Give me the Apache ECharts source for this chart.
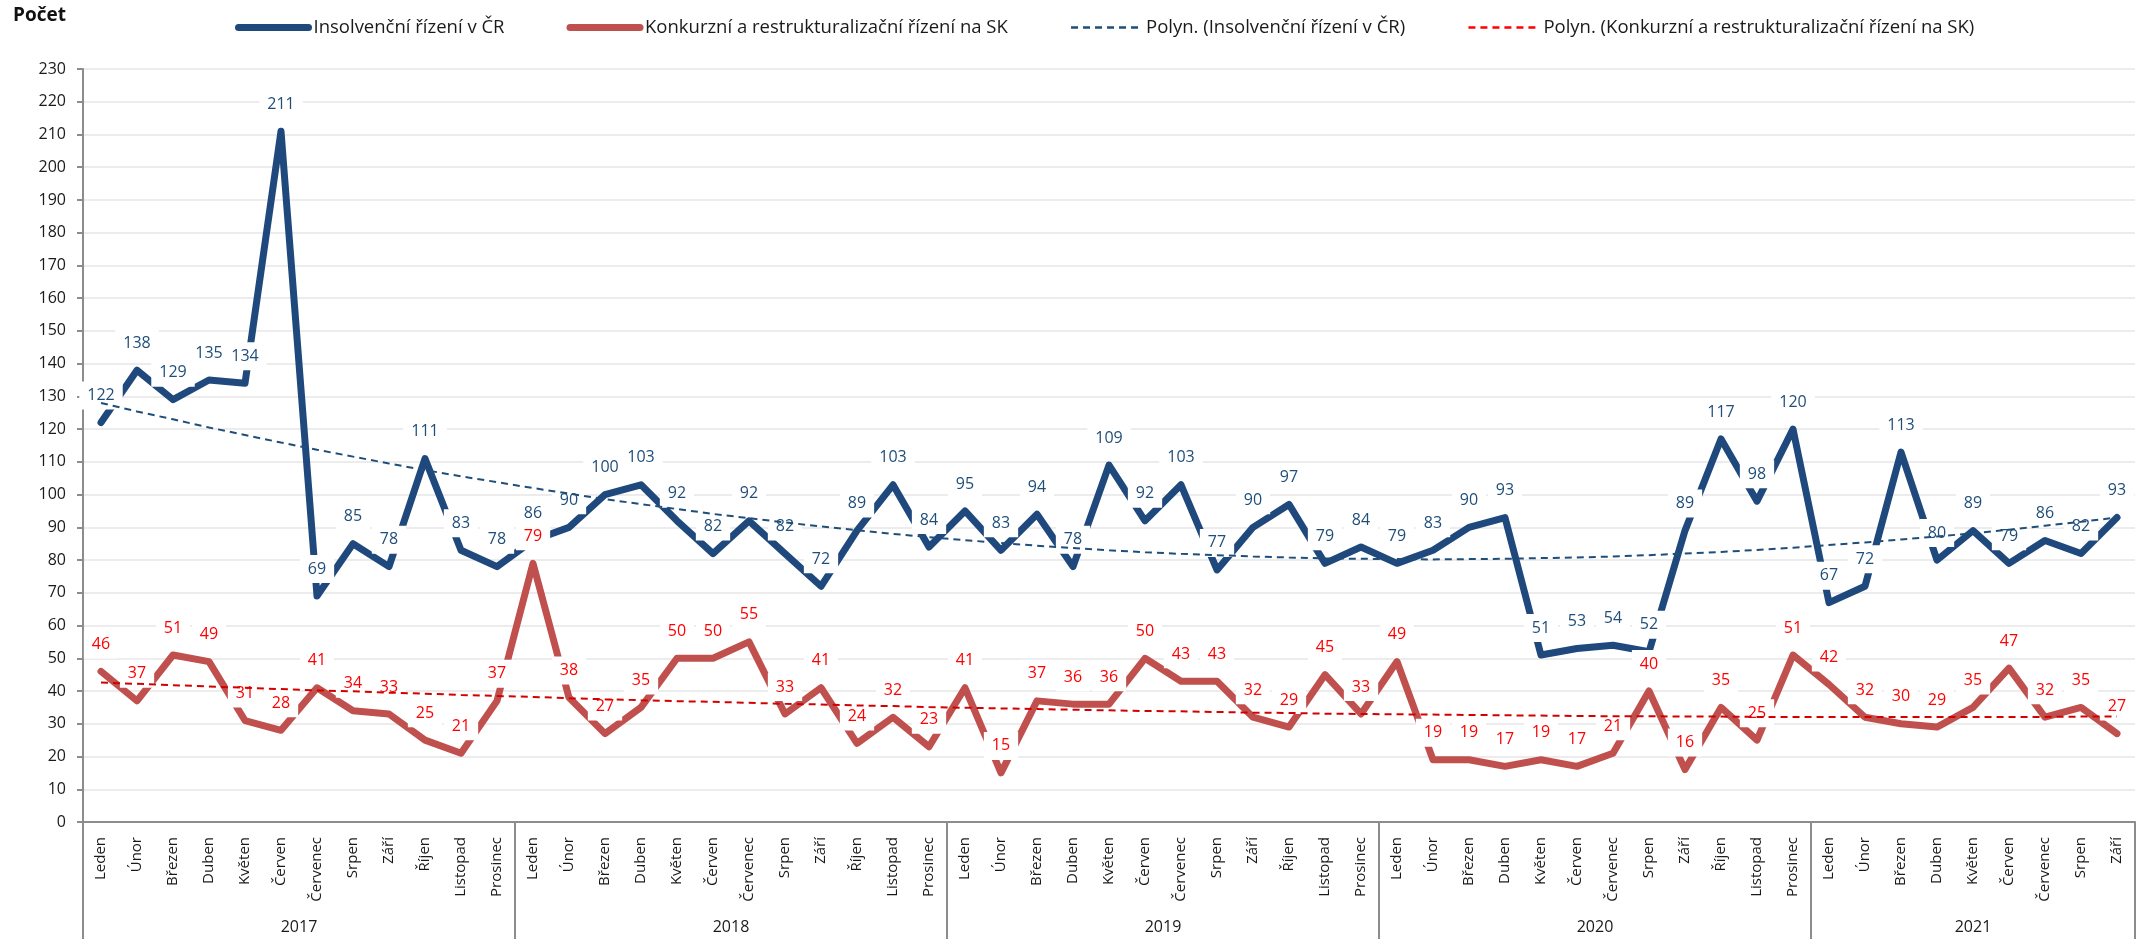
<!DOCTYPE html>
<html lang="cs">
<head>
<meta charset="utf-8">
<title>Insolvenční řízení</title>
<script src="https://cdn.jsdelivr.net/npm/echarts@6.0.0/dist/echarts.min.js"></script>
<style>
  html, body { margin: 0; padding: 0; background: #fff; }
  #chart { width: 2136px; height: 939px; }
</style>
</head>
<body>
<div id="chart"></div>
<script>
const months = ['Leden', 'Únor', 'Březen', 'Duben', 'Květen', 'Červen', 'Červenec', 'Srpen', 'Září', 'Říjen', 'Listopad', 'Prosinec']
const years = ['2017', '2018', '2019', '2020', '2021']
const monthsPerYear = [12, 12, 12, 12, 9]

const insolvenceCR = [
	122, 138, 129, 135, 134, 211, 69, 85, 78, 111, 83, 78,
	86, 90, 100, 103, 92, 82, 92, 82, 72, 89, 103, 84,
	95, 83, 94, 78, 109, 92, 103, 77, 90, 97, 79, 84,
	79, 83, 90, 93, 51, 53, 54, 52, 89, 117, 98, 120,
	67, 72, 113, 80, 89, 79, 86, 82, 93
]
const konkurzSK = [
	46, 37, 51, 49, 31, 28, 41, 34, 33, 25, 21, 37,
	79, 38, 27, 35, 50, 50, 55, 33, 41, 24, 32, 23,
	41, 15, 37, 36, 36, 50, 43, 43, 32, 29, 45, 33,
	49, 19, 19, 17, 19, 17, 21, 40, 16, 35, 25, 51,
	42, 32, 30, 29, 35, 47, 32, 35, 27
]
// trend lines (polyn.)
const trendCR = [
	128.0, 125.4, 123.0, 120.5, 118.2, 115.9, 113.7, 111.6, 109.5, 107.5,
	105.6, 103.8, 102.0, 100.3, 98.6, 97.1, 95.6, 94.1, 92.8, 91.5,
	90.3, 89.1, 88.0, 87.0, 86.1, 85.2, 84.4, 83.7, 83.0, 82.4,
	81.9, 81.5, 81.1, 80.8, 80.5, 80.4, 80.3, 80.2, 80.3, 80.4,
	80.6, 80.8, 81.1, 81.5, 82.0, 82.5, 83.1, 83.8, 84.6, 85.4,
	86.3, 87.2, 88.2, 89.3, 90.5, 91.7, 93.0
]
const trendSK = [
	42.6, 42.2, 41.8, 41.4, 41.0, 40.6, 40.2, 39.9, 39.5, 39.2,
	38.8, 38.5, 38.2, 37.8, 37.5, 37.2, 36.9, 36.7, 36.4, 36.1,
	35.9, 35.6, 35.4, 35.1, 34.9, 34.7, 34.5, 34.3, 34.1, 33.9,
	33.8, 33.6, 33.4, 33.3, 33.1, 33.0, 32.9, 32.8, 32.7, 32.6,
	32.5, 32.4, 32.3, 32.3, 32.2, 32.2, 32.1, 32.1, 32.1, 32.1,
	32.1, 32.1, 32.1, 32.1, 32.1, 32.2, 32.2
]

const seriesNames = [
	'Insolvenční řízení v ČR',
	'Konkurzní a restrukturalizační řízení na SK',
	'Polyn. (Insolvenční řízení v ČR)',
	'Polyn. (Konkurzní a restrukturalizační řízení na SK)'
]

const FONT = '"Open Sans", sans-serif'
const AXIS_GRAY = '#8c8c8c'
const BLUE = '#1f497d'
const RED = '#c0504d'
const TREND_BLUE = '#1f4e79'
const TREND_RED = '#d40000'

// categories + year boundaries for the second axis row
const categories = []
const yearBounds = [0]
const yearCenters = []
monthsPerYear.forEach((n, i) => {
	categories.push(...months.slice(0, n))
	const start = yearBounds[i]
	yearBounds.push(start + n)
	yearCenters.push(start + n / 2)
})

const dataLabel = (color) => ({
	show: true,
	position: 'top',
	distance: 12,
	color,
	fontFamily: FONT,
	fontSize: 16,
	lineHeight: 18,
	backgroundColor: '#fff',
	padding: [5, 8]
})

const chart = echarts.init(document.getElementById('chart'))

chart.setOption({
	animation: false,
	textStyle: { fontFamily: FONT },
	legend: {
		top: 13,
		left: 230,
		itemGap: 62,
		itemWidth: 70,
		itemHeight: 14,
		itemStyle: { opacity: 0 },
		textStyle: { fontFamily: FONT, fontSize: 18.5, color: '#1a1a1a' },
		data: [
			{ name: seriesNames[0], lineStyle: { color: BLUE, width: 7, cap: 'round' } },
			{ name: seriesNames[1], lineStyle: { color: RED, width: 7, cap: 'round' } },
			{ name: seriesNames[2], lineStyle: { color: TREND_BLUE, width: 2.5, type: [7, 5] } },
			{ name: seriesNames[3], lineStyle: { color: '#ff0000', width: 2.5, type: [7, 5] } }
		]
	},
	grid: { left: 83, right: 1, top: 69, bottom: 117 },
	xAxis: [
		{
			type: 'category',
			data: categories,
			boundaryGap: true,
			axisLine: { lineStyle: { color: AXIS_GRAY, width: 2 } },
			axisTick: { interval: 0, length: 84, lineStyle: { color: AXIS_GRAY, width: 2 } },
			axisLabel: { interval: 0, rotate: 90, margin: 15, fontSize: 15, color: '#1a1a1a', fontFamily: FONT }
		},
		{
			type: 'value',
			position: 'bottom',
			min: 0,
			max: categories.length,
			axisLine: { show: false },
			splitLine: { show: false },
			axisTick: {
				show: true,
				length: 120,
				customValues: yearBounds,
				lineStyle: { color: AXIS_GRAY, width: 2 }
			},
			axisLabel: {
				margin: 97,
				fontSize: 16,
				color: '#1a1a1a',
				fontFamily: FONT,
				customValues: yearCenters,
				formatter: (v) => years[yearCenters.indexOf(v)]
			}
		}
	],
	yAxis: {
		type: 'value',
		min: 0,
		max: 230,
		interval: 10,
		name: 'Počet',
		nameLocation: 'end',
		nameGap: 44,
		nameTextStyle: { align: 'right', padding: [0, 17, 0, 0], fontSize: 19, fontWeight: 'bold', color: '#111', fontFamily: FONT },
		axisLine: { show: true, lineStyle: { color: AXIS_GRAY, width: 2 } },
		axisTick: { show: true, length: 6, lineStyle: { color: AXIS_GRAY, width: 2 } },
		axisLabel: { margin: 17, fontSize: 16, color: '#1a1a1a', fontFamily: FONT },
		splitLine: { lineStyle: { color: '#ececec', width: 2 } }
	},
	series: [
		{
			name: seriesNames[0],
			type: 'line',
			data: insolvenceCR,
			symbol: 'circle',
			symbolSize: 2,
			showSymbol: true,
			z: 2,
			lineStyle: { color: BLUE, width: 7, join: 'round', cap: 'round' },
			itemStyle: { color: BLUE },
			label: dataLabel(TREND_BLUE)
		},
		{
			name: seriesNames[1],
			type: 'line',
			data: konkurzSK,
			symbol: 'circle',
			symbolSize: 2,
			showSymbol: true,
			z: 2,
			lineStyle: { color: RED, width: 7, join: 'round', cap: 'round' },
			itemStyle: { color: RED },
			label: dataLabel('#ff0000')
		},
		{
			name: seriesNames[2],
			type: 'line',
			data: trendCR,
			symbol: 'none',
			z: 4,
			lineStyle: { color: TREND_BLUE, width: 2, type: [7, 5] },
			itemStyle: { color: TREND_BLUE }
		},
		{
			name: seriesNames[3],
			type: 'line',
			data: trendSK,
			symbol: 'none',
			z: 4,
			lineStyle: { color: TREND_RED, width: 2, type: [7, 5] },
			itemStyle: { color: TREND_RED }
		}
	]
})

window.addEventListener('resize', () => chart.resize(), false)
</script>
</body>
</html>
